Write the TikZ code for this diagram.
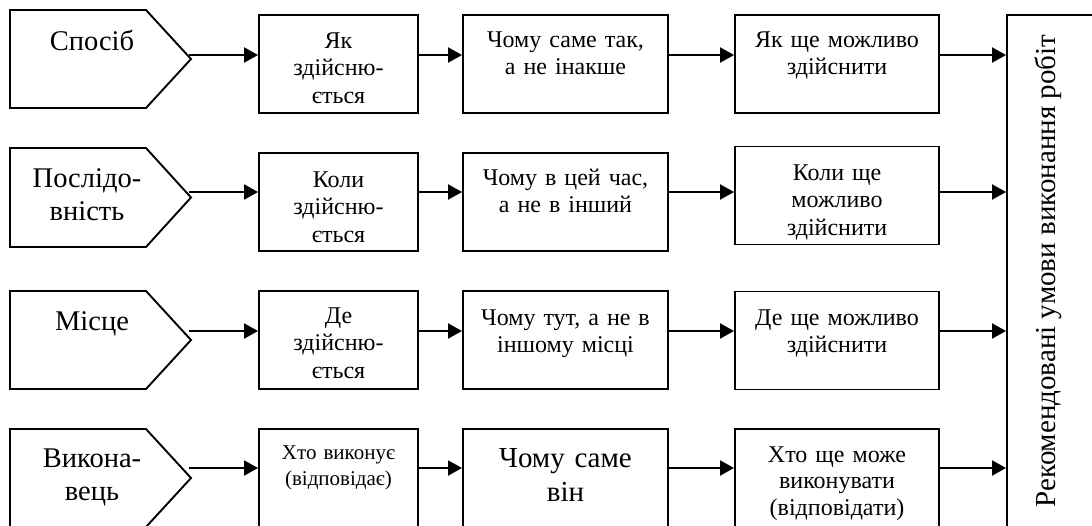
\documentclass[tikz,border=0pt]{standalone}
\usepackage{fontspec}
\setmainfont{Liberation Serif}
\usetikzlibrary{arrows.meta}
\begin{document}
\begin{tikzpicture}[x=1pt,y=-1pt,
  box/.style={draw, line width=1.9pt, inner sep=0pt, minimum height=98pt},
  cA/.style={box, minimum width=159pt},
  cB/.style={box, minimum width=205pt},
  cC/.style={box, minimum width=204pt},
  pent/.style={draw, line width=1.9pt, line join=miter},
  ptxt/.style={anchor=base, inner sep=0pt, text width=170pt, align=center, font=\fontsize{28.5}{33}\selectfont},
  btxt/.style={anchor=base, inner sep=0pt, text width=200pt, align=center, font=\fontsize{24}{27.5}\selectfont},
  arr/.style={-{Triangle[length=14pt,width=15pt]}, line width=1.9pt}
]
\useasboundingbox (0,0) rectangle (1092,525);
\clip (0,0) rectangle (1092,525);

% ---------- pentagons ----------
\draw[pent] (10,10) -- (146,10) -- (191,59) -- (146,108) -- (10,108) -- cycle;
\draw[pent] (10,148) -- (146,148) -- (191,197.5) -- (146,247) -- (10,247) -- cycle;
\draw[pent] (10,291) -- (146,291) -- (191,340) -- (146,389) -- (10,389) -- cycle;
\draw[pent] (10,429) -- (146,429) -- (191,478) -- (146,527) -- (10,527) -- cycle;

\node[ptxt] (p1) at (92,50) {Спосіб};
\node[ptxt] (p2) at (87,187) {Послідо-\\вність};
\node[ptxt] (p3) at (92,330) {Місце};
\node[ptxt] (p4) at (92,467) {Викона-\\вець};

\coordinate (a1) at (189,55);
\coordinate (a2) at (189,192);
\coordinate (a3) at (189,331);
\coordinate (a4) at (189,468);

% ---------- boxes ----------
\node[cA] (b11) at (338.5,64) {};
\node[cB] (b12) at (565.5,64) {};
\node[cC] (b13) at (837,64) {};

\node[cA] (b21) at (338.5,202) {};
\node[cB] (b22) at (565.5,202) {};
\node[cC] (b23) at (837,195.5) {};

\node[cA] (b31) at (338.5,340) {};
\node[cB] (b32) at (565.5,340) {};
\node[cC] (b33) at (837,340.5) {};

\node[cA] (b41) at (338.5,478) {};
\node[cB] (b42) at (565.5,478) {};
\node[cC] (b43) at (837,478) {};

% big vertical box
\node[draw, line width=1.9pt, inner sep=0pt, minimum width=100pt, minimum height=540pt] (R) at (1057,285) {};
\node[anchor=base, rotate=90, inner sep=0pt, font=\fontsize{29}{34}\selectfont] (Rt) at (1055,271) {Рекомендовані умови виконання робіт};

% ---------- box texts ----------
\node[btxt] (t11) at (338.5,48) {Як\\здійсню-\\ється};
\node[btxt] (t12) at (565.5,47) {Чому саме так,\\а не інакше};
\node[btxt] (t13) at (837,47) {Як ще можливо\\здійснити};

\node[btxt] (t21) at (338.5,187) {Коли\\здійсню-\\ється};
\node[btxt] (t22) at (565.5,185) {Чому в цей час,\\а не в інший};
\node[btxt] (t23) at (837,180) {Коли ще\\можливо\\здійснити};

\node[btxt] (t31) at (338.5,323) {Де\\здійсню-\\ється};
\node[btxt] (t32) at (565.5,325) {Чому тут, а не в\\іншому місці};
\node[btxt] (t33) at (837,325) {Де ще можливо\\здійснити};

\node[btxt, font=\fontsize{21}{26}\selectfont] (t41) at (338.5,459) {Хто виконує\\(відповідає)};
\node[btxt, font=\fontsize{29}{34}\selectfont] (t42) at (565.5,467) {Чому саме\\він};
\node[btxt, font=\fontsize{24}{26.5}\selectfont] (t43) at (837,462) {Хто ще може\\виконувати\\(відповідати)};

% ---------- arrows ----------
\foreach \r in {1,2,3,4} {
  \draw[arr] (a\r) -- (b\r1.west |- a\r);
  \draw[arr] (b\r1.east |- a\r) -- (b\r2.west |- a\r);
  \draw[arr] (b\r2.east |- a\r) -- (b\r3.west |- a\r);
  \draw[arr] (b\r3.east |- a\r) -- (R.west |- a\r);
}
\end{tikzpicture}
\end{document}
